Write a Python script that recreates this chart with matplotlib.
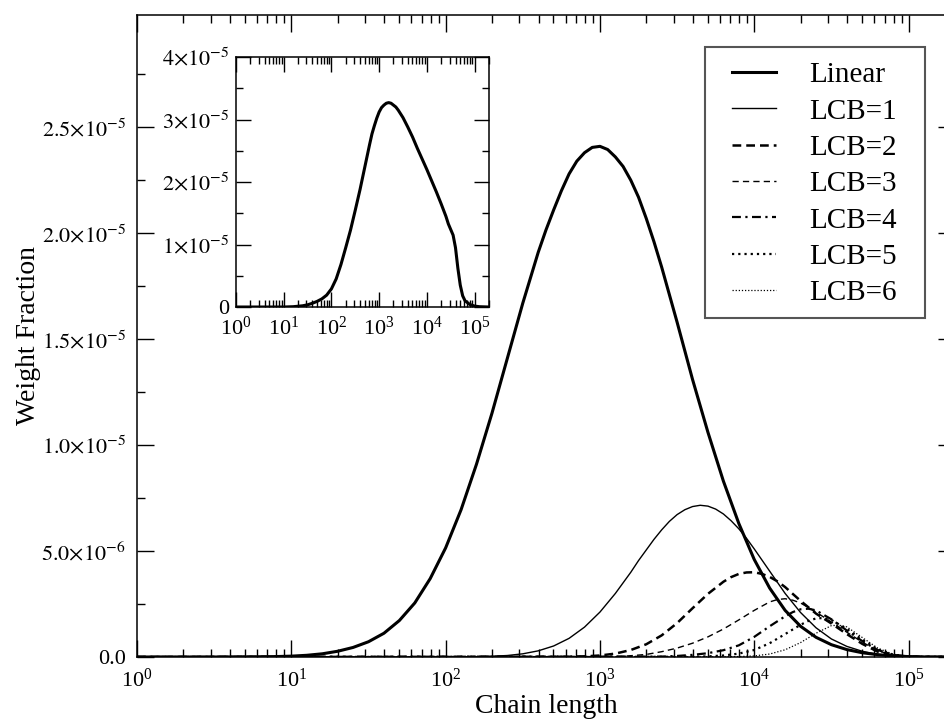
import numpy as np
import matplotlib
matplotlib.use("Agg")
import matplotlib.pyplot as plt
from matplotlib.patches import Rectangle
from matplotlib.ticker import FixedLocator, LogLocator, NullFormatter, FuncFormatter

plt.rcParams["font.family"] = ["Liberation Serif", "DejaVu Serif"]
plt.rcParams["mathtext.fontset"] = "stix"

# main panel: log10(chain length) and weight fraction (units of 1e-6)
linear_logn = [0.0, 0.5, 0.8, 0.9, 1.0, 1.1, 1.2, 1.3, 1.4, 1.5, 1.6, 1.7, 1.8, 1.9,
               2.0, 2.1, 2.2, 2.3, 2.4, 2.5, 2.6, 2.65, 2.7, 2.75, 2.8, 2.85, 2.9, 2.95,
               3.0, 3.05, 3.1, 3.15, 3.2, 3.25, 3.3, 3.35, 3.4, 3.5, 3.6, 3.7, 3.8, 3.9,
               4.0, 4.1, 4.2, 4.3, 4.4, 4.5, 4.6, 4.7, 4.8, 4.9, 5.0, 5.1, 5.3]
linear_wf = [0, 0, 0.01, 0.02, 0.04, 0.08, 0.15, 0.27, 0.45, 0.72, 1.12, 1.72, 2.55, 3.7,
             5.15, 6.95, 9.1, 11.5, 14.1, 16.7, 19.1, 20.15, 21.1, 22.0, 22.8, 23.4, 23.8, 24.05,
             24.1, 23.95, 23.6, 23.15, 22.5, 21.7, 20.7, 19.6, 18.4, 15.8, 13.1, 10.6, 8.3, 6.3,
             4.6, 3.25, 2.2, 1.45, 0.93, 0.58, 0.35, 0.2, 0.11, 0.05, 0.02, 0.0, 0.0]

lcb1_logn = [0.0, 2.0, 2.1, 2.2, 2.3, 2.4, 2.5, 2.6, 2.7, 2.8, 2.9, 3.0, 3.1, 3.2, 3.25,
             3.3, 3.35, 3.4, 3.45, 3.5, 3.55, 3.6, 3.65, 3.7, 3.75, 3.8, 3.85, 3.9, 3.95,
             4.0, 4.1, 4.2, 4.3, 4.4, 4.5, 4.6, 4.7, 4.8, 4.9, 5.0, 5.3]
lcb1_wf = [0, 0.005, 0.01, 0.02, 0.035, 0.07, 0.15, 0.29, 0.52, 0.88, 1.41, 2.12, 3.0, 4.0, 4.55,
           5.05, 5.55, 6.0, 6.4, 6.72, 6.95, 7.1, 7.16, 7.12, 6.98, 6.75, 6.43, 6.05, 5.6,
           5.1, 4.05, 3.0, 2.1, 1.38, 0.85, 0.5, 0.27, 0.12, 0.05, 0.01, 0]

lcb2_logn = [0.0, 2.8, 2.9, 3.0, 3.1, 3.2, 3.3, 3.4, 3.5, 3.6, 3.7, 3.8, 3.85, 3.9, 3.95,
             4.0, 4.05, 4.1, 4.15, 4.2, 4.3, 4.4, 4.5, 4.6, 4.7, 4.8, 4.9, 5.0, 5.3]
lcb2_wf = [0, 0.01, 0.03, 0.07, 0.16, 0.33, 0.6, 1.02, 1.6, 2.3, 2.98, 3.55, 3.77, 3.92, 3.99,
           4.0, 3.92, 3.78, 3.57, 3.3, 2.65, 2.05, 1.58, 1.08, 0.62, 0.25, 0.07, 0.01, 0]

lcb3_logn = [0.0, 3.1, 3.2, 3.3, 3.4, 3.5, 3.6, 3.7, 3.8, 3.9, 4.0, 4.1, 4.15, 4.2, 4.25,
             4.3, 4.4, 4.5, 4.6, 4.7, 4.8, 4.9, 5.0, 5.3]
lcb3_wf = [0, 0.02, 0.06, 0.12, 0.25, 0.42, 0.65, 0.95, 1.32, 1.75, 2.2, 2.6, 2.71, 2.75, 2.68,
           2.55, 2.12, 1.65, 1.17, 0.7, 0.3, 0.08, 0.01, 0]

lcb4_logn = [0.0, 3.4, 3.5, 3.6, 3.7, 3.8, 3.9, 4.0, 4.1, 4.2, 4.25, 4.3, 4.35, 4.4, 4.5,
             4.6, 4.7, 4.8, 4.9, 5.0, 5.3]
lcb4_wf = [0, 0.02, 0.05, 0.1, 0.18, 0.32, 0.55, 0.95, 1.45, 1.92, 2.12, 2.25, 2.28, 2.2, 1.78,
           1.25, 0.75, 0.33, 0.1, 0.02, 0]

lcb5_logn = [0.0, 3.6, 3.7, 3.8, 3.9, 4.0, 4.1, 4.2, 4.3, 4.35, 4.4, 4.45, 4.5, 4.6, 4.7,
             4.8, 4.9, 5.0, 5.3]
lcb5_wf = [0, 0.01, 0.03, 0.07, 0.16, 0.33, 0.65, 1.08, 1.52, 1.7, 1.82, 1.84, 1.75, 1.32, 0.82,
           0.36, 0.11, 0.02, 0]

lcb6_logn = [0.0, 3.8, 3.9, 4.0, 4.1, 4.2, 4.3, 4.4, 4.5, 4.55, 4.6, 4.7, 4.8, 4.9, 5.0, 5.3]
lcb6_wf = [0, 0.01, 0.02, 0.05, 0.14, 0.34, 0.68, 1.12, 1.48, 1.5, 1.42, 0.92, 0.42, 0.13, 0.02, 0]

# inset: total distribution (units of 1e-5)
inset_logn = [0.0, 1.0, 1.2, 1.4, 1.5, 1.6, 1.7, 1.8, 1.9, 2.0, 2.1, 2.2, 2.3, 2.4,
              2.5, 2.6, 2.7, 2.8, 2.85, 2.9, 2.95, 3.0, 3.05, 3.1, 3.15, 3.2, 3.25, 3.3,
              3.35, 3.4, 3.5, 3.6, 3.7, 3.8, 3.9, 4.0, 4.1, 4.2, 4.3, 4.4, 4.45, 4.5,
              4.55, 4.6, 4.65, 4.7, 4.75, 4.8, 4.9, 5.0, 5.1, 5.3]
inset_wf = [0, 0.0, 0.005, 0.02, 0.035, 0.06, 0.09, 0.13, 0.19, 0.29, 0.45, 0.68, 0.95, 1.23,
            1.55, 1.88, 2.24, 2.6, 2.77, 2.9, 3.02, 3.12, 3.19, 3.23, 3.26, 3.27, 3.26, 3.23,
            3.2, 3.15, 3.03, 2.88, 2.72, 2.54, 2.37, 2.2, 2.02, 1.84, 1.65, 1.45, 1.33, 1.24,
            1.15, 0.95, 0.62, 0.35, 0.18, 0.1, 0.04, 0.015, 0.005, 0]

series = [
    ("Linear", linear_logn, linear_wf, dict(lw=2.2, ls="-")),
    ("LCB=1", lcb1_logn, lcb1_wf, dict(lw=1.0, ls="-")),
    ("LCB=2", lcb2_logn, lcb2_wf, dict(lw=1.8, dashes=(3.5, 2.0))),
    ("LCB=3", lcb3_logn, lcb3_wf, dict(lw=1.0, dashes=(4.5, 3.0))),
    ("LCB=4", lcb4_logn, lcb4_wf, dict(lw=1.6, dashes=(4.0, 2.0, 1.0, 2.0))),
    ("LCB=5", lcb5_logn, lcb5_wf, dict(lw=1.6, dashes=(1.0, 1.8))),
    ("LCB=6", lcb6_logn, lcb6_wf, dict(lw=0.9, dashes=(1.0, 1.5))),
]


def y_main_fmt(v, pos):
    if abs(v) < 1e-12:
        return "0.0"
    exp = int(np.floor(np.log10(v) + 1e-9))
    return r"$%.1f{\times}10^{%d}$" % (v / 10 ** exp, exp)


def y_inset_fmt(v, pos):
    if abs(v) < 1e-12:
        return "0"
    exp = int(np.floor(np.log10(v) + 1e-9))
    return r"$%d{\times}10^{%d}$" % (round(v / 10 ** exp), exp)


fig = plt.figure(figsize=(9.45, 7.27), dpi=100)
ax = fig.add_axes([0.145, 0.0963, 0.8656, 0.8831])

for label, logn, wf, style in series:
    ax.plot(10 ** np.array(logn), np.array(wf) * 1e-6, color="black", label=label, **style)

ax.set_xscale("log")
ax.set_xlim(1, 2e5)
ax.set_ylim(0, 3.03e-5)
ax.yaxis.set_major_locator(FixedLocator([0, 5e-6, 1e-5, 1.5e-5, 2e-5, 2.5e-5]))
ax.yaxis.set_minor_locator(FixedLocator([2.5e-6, 7.5e-6, 1.25e-5, 1.75e-5, 2.25e-5, 2.75e-5]))
ax.yaxis.set_major_formatter(FuncFormatter(y_main_fmt))
ax.xaxis.set_major_locator(LogLocator(base=10, numticks=10))
ax.xaxis.set_minor_locator(LogLocator(base=10, subs=np.arange(2, 10), numticks=20))
ax.xaxis.set_minor_formatter(NullFormatter())
ax.tick_params(which="both", direction="in", top=True, right=True, labelsize=16, width=1.0)
ax.tick_params(which="major", length=12)
ax.tick_params(which="minor", length=6)
ax.tick_params(axis="x", which="major", pad=8)
ax.tick_params(axis="y", which="major", pad=8)
for sp in ax.spines.values():
    sp.set_linewidth(1.1)

ax.set_xlabel("Chain length", fontsize=20, labelpad=2)
ax.set_ylabel("Weight Fraction", fontsize=20)
ax.yaxis.set_label_coords(-0.118, 0.5)

# legend box drawn separately so its padding can match the original
ax.add_patch(Rectangle((0.6944, 0.528), 0.2689, 0.4222, transform=ax.transAxes,
                       facecolor="white", edgecolor="#555555", lw=1.5, zorder=4))
leg = ax.legend(loc="upper left", bbox_to_anchor=(0.7274, 0.927), borderaxespad=0,
                borderpad=0, fontsize=21, handlelength=1.5, handletextpad=1.15,
                labelspacing=0.34, frameon=False)
leg.set_zorder(5)

# inset
ins = fig.add_axes([0.2497, 0.5777, 0.2677, 0.3439])
ins.plot(10 ** np.array(inset_logn), np.array(inset_wf) * 1e-5, color="black", lw=2.2)
ins.set_xscale("log")
ins.set_xlim(1, 2e5)
ins.set_ylim(0, 4e-5)
ins.yaxis.set_major_locator(FixedLocator([0, 1e-5, 2e-5, 3e-5, 4e-5]))
ins.yaxis.set_minor_locator(FixedLocator([5e-6, 1.5e-5, 2.5e-5, 3.5e-5]))
ins.yaxis.set_major_formatter(FuncFormatter(y_inset_fmt))
ins.xaxis.set_major_locator(LogLocator(base=10, numticks=10))
ins.xaxis.set_minor_locator(LogLocator(base=10, subs=np.arange(2, 10), numticks=20))
ins.xaxis.set_minor_formatter(NullFormatter())
ins.tick_params(which="both", direction="in", top=True, right=True, labelsize=16, width=1.0)
ins.tick_params(which="major", length=11)
ins.tick_params(which="minor", length=5)
ins.tick_params(axis="x", which="major", pad=7)
ins.tick_params(axis="y", which="major", pad=5)
for sp in ins.spines.values():
    sp.set_linewidth(1.1)

fig.savefig("out.png", dpi=100)
